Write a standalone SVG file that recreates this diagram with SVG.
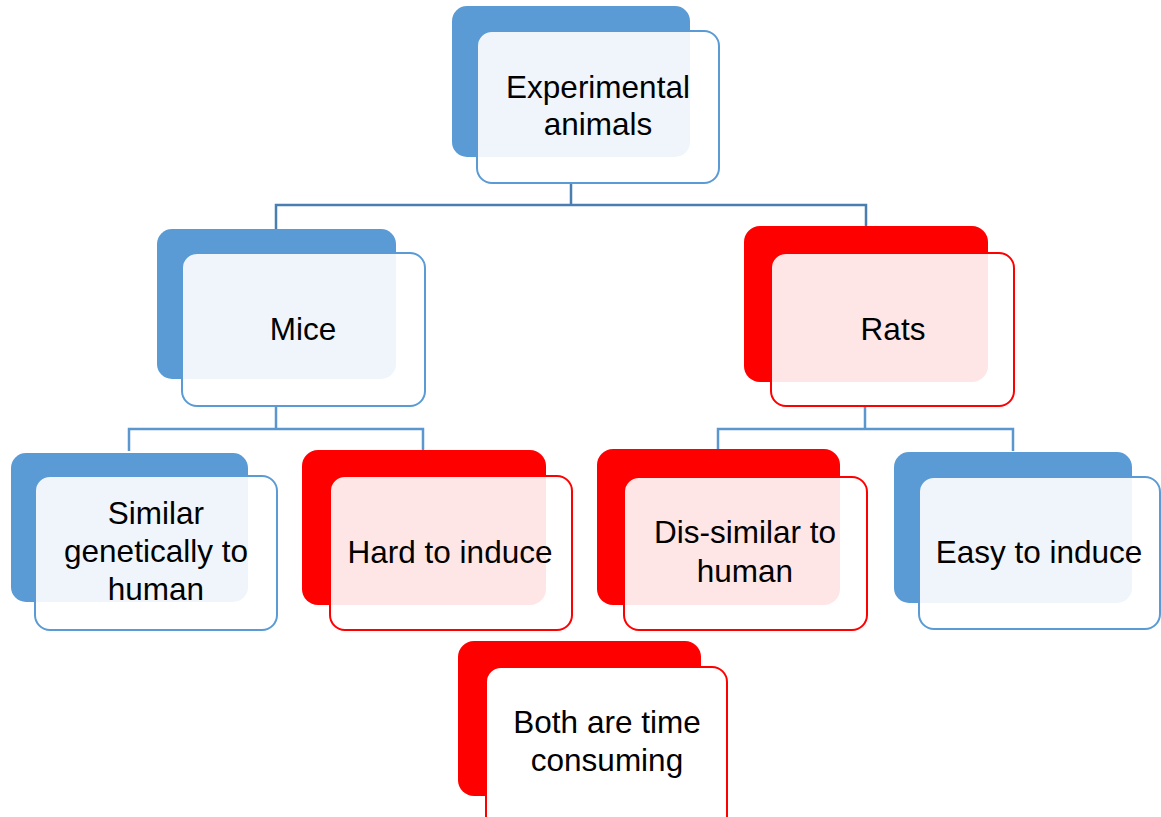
<svg xmlns="http://www.w3.org/2000/svg" width="1161" height="817" viewBox="0 0 1161 817">
<style>
.bb{fill:#5B9BD5}
.br{fill:#FF0000}
.fb{fill:#FFFFFF;fill-opacity:0.9;stroke:#5B9BD5;stroke-width:2}
.fr{fill:#FFFFFF;fill-opacity:0.9;stroke:#FF0000;stroke-width:2}
.fo{fill:#FFFFFF;stroke:#FF0000;stroke-width:2}
.c1{fill:none;stroke:#4A7EB0;stroke-width:2.5}
.c2{fill:none;stroke:#5B96CE;stroke-width:2.5}
text{font-family:"Liberation Sans",Arial,sans-serif;font-size:31.5px;fill:#000;text-anchor:middle}
</style>
<rect width="1161" height="817" fill="#FFFFFF"/>
<g id="connectors">
<path class="c1" d="M571,183 V205 M276,230 V205 H866 V228"/>
<path class="c2" d="M276,406 V429 M129,451 V429 H423 V451"/>
<path class="c2" d="M865,406 V429 M718,451 V429 H1013 V451"/>
</g>
<g id="node-experimental">
<rect class="bb" x="452" y="6" width="238" height="151" rx="15"/>
<rect class="fb" x="477" y="31" width="242" height="152" rx="15"/>
<text x="598" y="98">Experimental</text>
<text x="598" y="135">animals</text>
</g>
<g id="node-mice">
<rect class="bb" x="157" y="229" width="239" height="150" rx="15"/>
<rect class="fb" x="182" y="253" width="243" height="153" rx="15"/>
<text x="303" y="340">Mice</text>
</g>
<g id="node-rats">
<rect class="br" x="744" y="226" width="244" height="156" rx="16"/>
<rect class="fr" x="771" y="253" width="243" height="153" rx="15"/>
<text x="893" y="340">Rats</text>
</g>
<g id="node-similar">
<rect class="bb" x="11" y="453" width="237" height="149" rx="15"/>
<rect class="fb" x="35" y="476" width="242" height="154" rx="15"/>
<text x="156" y="524">Similar</text>
<text x="156" y="562">genetically to</text>
<text x="156" y="600">human</text>
</g>
<g id="node-hard">
<rect class="br" x="302" y="450" width="244" height="155" rx="16"/>
<rect class="fr" x="330" y="476" width="242" height="154" rx="15"/>
<text x="450" y="563">Hard to induce</text>
</g>
<g id="node-dissimilar">
<rect class="br" x="597" y="449" width="243" height="156" rx="16"/>
<rect class="fr" x="624" y="477" width="243" height="153" rx="15"/>
<text x="745" y="543">Dis-similar to</text>
<text x="745" y="582">human</text>
</g>
<g id="node-easy">
<rect class="bb" x="894" y="452" width="238" height="151" rx="15"/>
<rect class="fb" x="919" y="477" width="241" height="152" rx="15"/>
<text x="1039" y="563">Easy to induce</text>
</g>
<g id="node-both">
<rect class="br" x="458" y="641" width="243" height="155" rx="16"/>
<rect class="fo" x="486" y="667" width="241" height="170" rx="15"/>
<text x="607" y="733">Both are time</text>
<text x="607" y="771">consuming</text>
</g>
</svg>
